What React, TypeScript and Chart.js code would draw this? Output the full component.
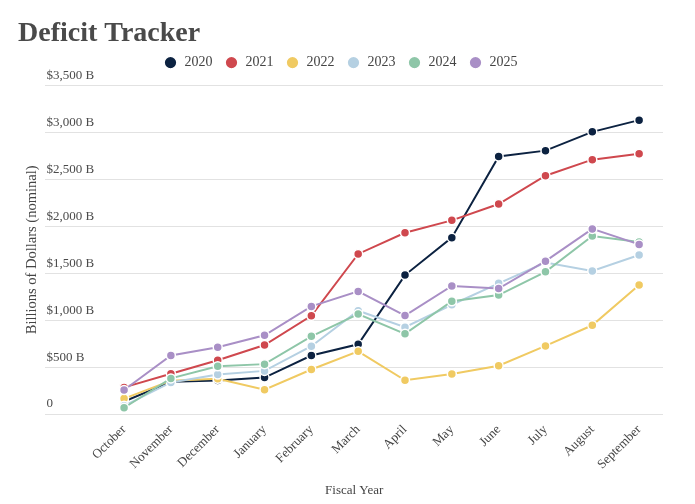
import { useEffect, useRef } from 'react';
import { Chart, registerables } from 'chart.js';
import type { Plugin } from 'chart.js';

Chart.register(...registerables);

// Fiscal year months, October through September
const months = [
  'October', 'November', 'December', 'January', 'February', 'March',
  'April', 'May', 'June', 'July', 'August', 'September'
];

// Cumulative deficit, billions of dollars
const fy2020 = [134, 343, 357, 389, 624, 743, 1481, 1880, 2744, 2807, 3007, 3132];
const fy2021 = [284, 429, 573, 736, 1047, 1706, 1932, 2064, 2238, 2540, 2711, 2775];
const fy2022 = [165, 356, 377, 259, 475, 668, 360, 426, 515, 726, 946, 1375];
const fy2023 = [88, 337, 421, 460, 723, 1101, 925, 1165, 1393, 1614, 1525, 1695];
const fy2024 = [67, 380, 510, 532, 828, 1065, 855, 1202, 1268, 1516, 1897, 1833];
const fy2025 = [257, 624, 711, 840, 1147, 1307, 1049, 1365, 1337, 1629, 1973, 1808];

const seriesNames = ['2020', '2021', '2022', '2023', '2024', '2025'];
const seriesValues = [fy2020, fy2021, fy2022, fy2023, fy2024, fy2025];
const seriesColors = ['#0c2241', '#cf484e', '#f0ca62', '#b5d0e2', '#8ec6a8', '#a98fc6'];

const yTicks = [0, 500, 1000, 1500, 2000, 2500, 3000, 3500];

const FONT = '"Liberation Serif", "Times New Roman", serif';

// adds a bit of room under the legend row
const legendGap: Plugin = {
  id: 'legendGap',
  beforeLayout(chart) {
    const legend = chart.legend as any;
    if (!legend || legend._gapPatched) return;
    const fit = legend.fit;
    legend.fit = function () {
      fit.call(this);
      this.height += 6;
    };
    legend._gapPatched = true;
  }
};

export default function App() {
  const canvasRef = useRef<HTMLCanvasElement>(null);

  useEffect(() => {
    if (!canvasRef.current) return;

    const datasets = seriesNames.map((name, i) => ({
      label: name,
      data: seriesValues[i].map((v, m) => ({ x: m, y: v })),
      borderColor: seriesColors[i],
      backgroundColor: seriesColors[i],
      pointBackgroundColor: seriesColors[i],
      pointBorderColor: '#ffffff',
      pointBorderWidth: 1.5,
      pointRadius: 4.5,
      borderWidth: 2,
      tension: 0,
      order: seriesNames.length - 1 - i
    }));

    const chart = new Chart(canvasRef.current, {
      type: 'line',
      data: { datasets },
      plugins: [legendGap],
      options: {
        animation: false,
        responsive: true,
        maintainAspectRatio: false,
        layout: { padding: { left: 18, right: 32, bottom: 2 } },
        plugins: {
          title: {
            display: true,
            text: 'Deficit Tracker',
            align: 'start',
            color: '#4a4a4a',
            font: { family: FONT, size: 28, weight: 'bold' },
            padding: { top: 17, bottom: -7 }
          },
          legend: {
            position: 'top',
            labels: {
              usePointStyle: true,
              pointStyle: 'circle',
              boxHeight: 9,
              padding: 12,
              color: '#444',
              font: { family: FONT, size: 14 },
              sort: (a, b) => (a.datasetIndex ?? 0) - (b.datasetIndex ?? 0)
            }
          },
          tooltip: { enabled: false }
        },
        scales: {
          x: {
            type: 'linear',
            min: -1.68,
            max: 11.51,
            afterBuildTicks: (scale) => {
              scale.ticks = months.map((_, i) => ({ value: i }));
            },
            ticks: {
              autoSkip: false,
              maxRotation: 45,
              minRotation: 45,
              padding: 8,
              color: '#444',
              font: { family: FONT, size: 13 },
              callback: (value) => months[Number(value)] ?? ''
            },
            grid: { display: false, drawTicks: false },
            border: { display: false },
            title: {
              display: true,
              text: 'Fiscal Year',
              color: '#444',
              font: { family: FONT, size: 13 },
              padding: { top: 2, bottom: 4 }
            }
          },
          y: {
            min: 0,
            max: 3500,
            afterBuildTicks: (scale) => {
              scale.ticks = yTicks.map(v => ({ value: v }));
            },
            ticks: {
              mirror: true,
              padding: 1,
              labelOffset: -10,
              color: '#4a4a4a',
              font: { family: FONT, size: 13 },
              callback: (value) => {
                const v = Number(value);
                return v === 0 ? '0' : `$${v.toLocaleString('en-US')} B`;
              }
            },
            grid: { color: '#e2e2e2', lineWidth: 1, drawTicks: false },
            border: { display: false },
            title: {
              display: true,
              text: 'Billions of Dollars (nominal)',
              color: '#444',
              font: { family: FONT, size: 14.5 },
              padding: { top: 5, bottom: 3 }
            }
          }
        }
      }
    });

    return () => {
      chart.destroy();
    };
  }, []);

  return (
    <div style={{ position: 'absolute', left: 0, top: 0, width: 695, height: 504, background: '#fff' }}>
      <canvas ref={canvasRef}></canvas>
    </div>
  );
}
